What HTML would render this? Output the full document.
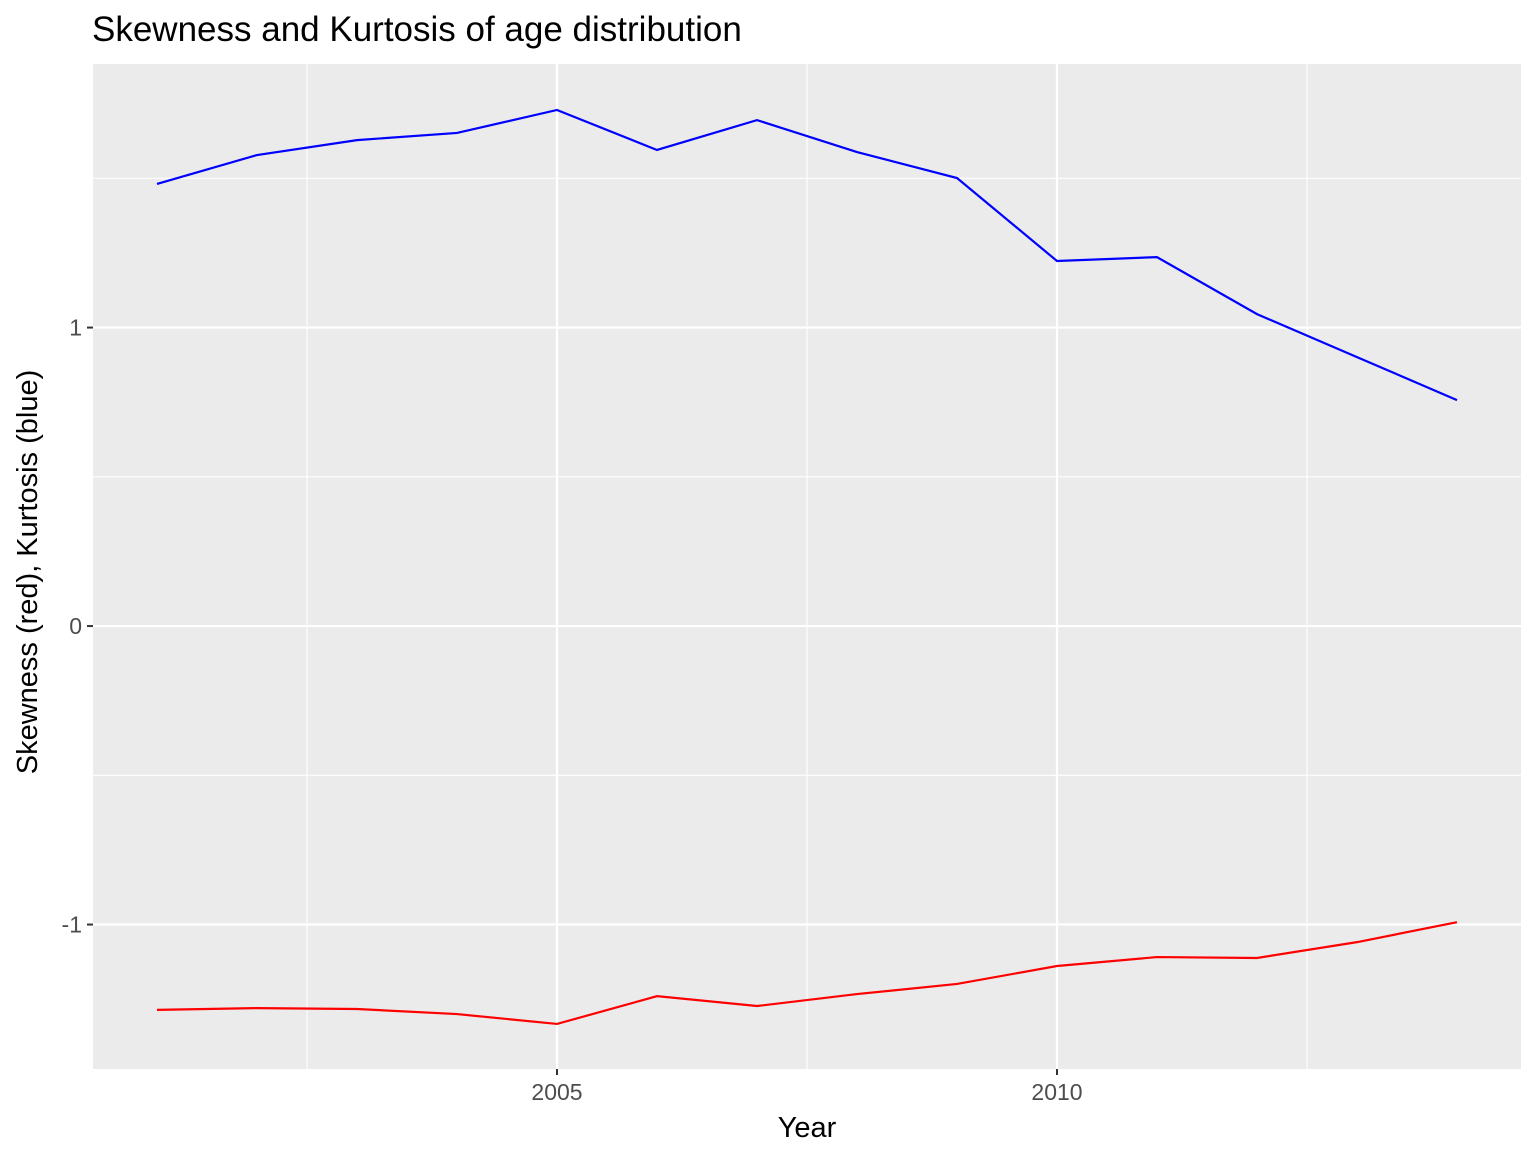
<!DOCTYPE html>
<html><head><meta charset="utf-8"><style>
body{margin:0;background:#fff;}
svg{display:block;font-family:"Liberation Sans",sans-serif;}
</style></head><body>
<svg id="chart" width="1536" height="1152">
<text x="92" y="41" font-size="35" fill="#000">Skewness and Kurtosis of age distribution</text>
<rect x="93" y="64" width="1428" height="1005" fill="#ebebeb"/>
<g id="grid"></g>
<g id="series"></g>
<g id="axes"></g>
<text x="807" y="1137" font-size="29" text-anchor="middle" fill="#000">Year</text>
<text transform="translate(37,572) rotate(-90)" font-size="29" text-anchor="middle" fill="#000">Skewness (red), Kurtosis (blue)</text>
</svg>
<script>
const years=[2001,2002,2003,2004,2005,2006,2007,2008,2009,2010,2011,2012,2013,2014];
const kurtosis=[1.481,1.578,1.628,1.652,1.729,1.595,1.695,1.588,1.501,1.223,1.236,1.045,0.901,0.757];
const skewness=[-1.286,-1.280,-1.283,-1.300,-1.333,-1.240,-1.273,-1.233,-1.199,-1.139,-1.109,-1.112,-1.059,-0.992];
const xTicks=[2005,2010];
const xMinor=[2002.5,2007.5,2012.5];
const yTicks=[-1,0,1];
const yMinor=[-0.5,0.5,1.5];

const NS="http://www.w3.org/2000/svg";
const X0=93,X1=1521,Y0=64,Y1=1069;
const xmin=2000.36,xmax=2014.64,ymin=-1.484,ymax=1.883;
const sx=v=>X0+(v-xmin)/(xmax-xmin)*(X1-X0);
const sy=v=>Y1-(v-ymin)/(ymax-ymin)*(Y1-Y0);
function mk(tag,attrs,parent){const e=document.createElementNS(NS,tag);for(const k in attrs)e.setAttribute(k,attrs[k]);document.getElementById(parent).appendChild(e);return e;}
xMinor.forEach(v=>{const l=mk('line',{x1:sx(v),x2:sx(v),y1:Y0,y2:Y1,stroke:'#fff','stroke-width':1.1},'grid');

});
yMinor.forEach(v=>{const l=mk('line',{x1:X0,x2:X1,y1:sy(v),y2:sy(v),stroke:'#fff','stroke-width':1.1},'grid');

});
xTicks.forEach(v=>{const l=mk('line',{x1:sx(v),x2:sx(v),y1:Y0,y2:Y1,stroke:'#fff','stroke-width':2.2},'grid');


const t=mk('line',{x1:sx(v),x2:sx(v),y1:Y1,y2:Y1+6,stroke:'#333','stroke-width':2},'axes');


const tx=mk('text',{x:sx(v),y:Y1+31,'font-size':23,'text-anchor':'middle',fill:'#4d4d4d'},'axes');tx.textContent=v;

});
yTicks.forEach(v=>{const l=mk('line',{x1:X0,x2:X1,y1:sy(v),y2:sy(v),stroke:'#fff','stroke-width':2.2},'grid');


const t=mk('line',{x1:X0-6,x2:X0,y1:sy(v),y2:sy(v),stroke:'#333','stroke-width':2},'axes');


const tx=mk('text',{x:X0-11,y:sy(v)+8,'font-size':23,'text-anchor':'end',fill:'#4d4d4d'},'axes');tx.textContent=v;

});
function line(vals,color,name){const p=mk('polyline',{points:years.map((y,i)=>sx(y)+','+sy(vals[i])).join(' '),fill:'none',stroke:color,'stroke-width':2.2},'series');

}
line(kurtosis,'#0000ff','kurtosis-line');
line(skewness,'#ff0000','skewness-line');
</script>
</body></html>
